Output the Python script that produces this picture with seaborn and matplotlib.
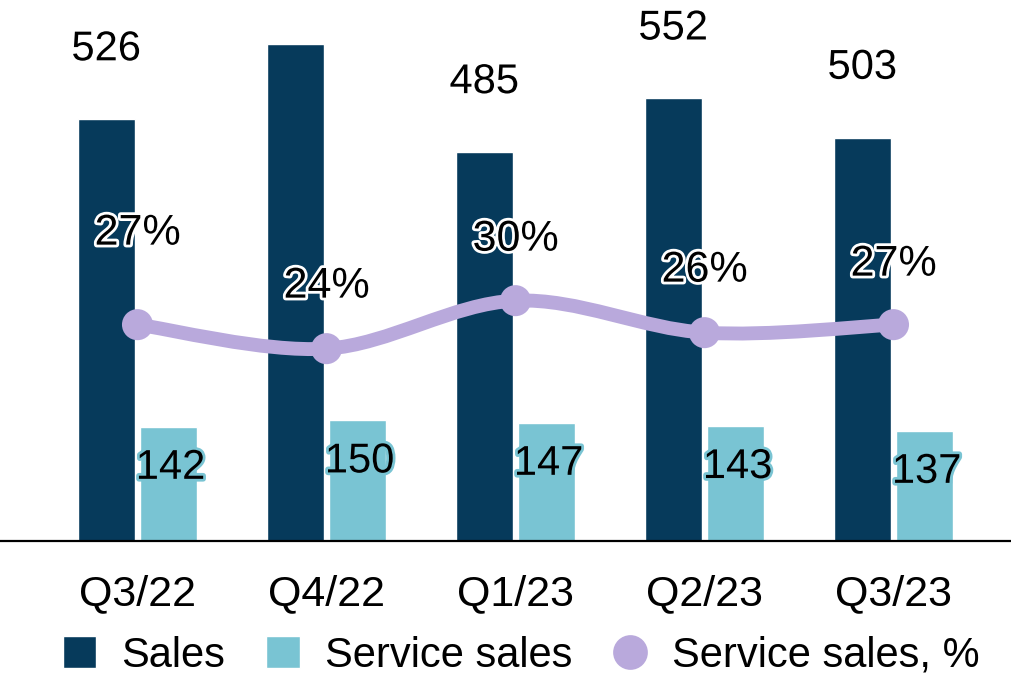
import numpy as np
import pandas as pd
import matplotlib
matplotlib.use("Agg")
import matplotlib.pyplot as plt
import matplotlib.patheffects as pe
from matplotlib.path import Path
from matplotlib.patches import PathPatch, Patch
from matplotlib.lines import Line2D
import seaborn as sns

# data
quarters = ["Q3/22", "Q4/22", "Q1/23", "Q2/23", "Q3/23"]
sales = [526, 620, 485, 552, 503]
service_sales = [142, 150, 147, 143, 137]
service_pct = [27, 24, 30, 26, 27]

NAVY = "#063a5b"
TEAL = "#79c4d3"
LAV = "#b9a9dc"

sns.set_style("white")
plt.rcParams["font.family"] = ["Liberation Sans", "DejaVu Sans"]
plt.rcParams["text.color"] = "black"
plt.rcParams["xtick.color"] = "black"

df = pd.DataFrame({
    "quarter": quarters * 2,
    "value": sales + service_sales,
    "series": ["Sales"] * 5 + ["Service sales"] * 5,
})

fig = plt.figure(figsize=(10.12, 6.74), dpi=100)
ax = fig.add_axes([0, 0.198, 1, 0.802])

sns.barplot(data=df, x="quarter", y="value", hue="series", order=quarters,
            palette=[NAVY, TEAL], width=0.66, gap=0.09, legend=False,
            saturation=1, ax=ax)
ax.set_xlim(-0.7275, 4.627)
ax.set_ylim(0, 675)
ax.set_xlabel("")
ax.set_ylabel("")
ax.set_yticks([])
for s in ["top", "left", "right"]:
    ax.spines[s].set_visible(False)
ax.spines["bottom"].set_color("black")
ax.spines["bottom"].set_linewidth(1.6)
ax.tick_params(axis="x", length=0, pad=24, labelsize=31, labelcolor="black")

white = [pe.withStroke(linewidth=4, foreground="white")]
teal_fx = [pe.withStroke(linewidth=4, foreground=TEAL)]

# value labels sit ~70px above the bars; the Q4/22 one would land above
# the top edge of the picture, so (as in the reference) it is not shown
fig.canvas.draw()
top_px = fig.bbox.height
for i, v in enumerate(sales):
    ypx = ax.transData.transform((0, v))[1] + 70
    if ypx + 15 > top_px:
        continue
    ax.annotate(str(v), (i - 0.165, v), xytext=(0, 70), textcoords="offset pixels",
                ha="center", va="center", fontsize=30, color="black",
                path_effects=white, annotation_clip=False)
for i, v in enumerate(service_sales):
    ax.annotate(str(v), (i + 0.175, v), xytext=(0, -41), textcoords="offset pixels",
                ha="center", va="center", fontsize=30, color="black",
                path_effects=teal_fx)

# percentage line on a second axis
ax2 = ax.twinx()
ax2.set_ylim(0, 67.6)
ax2.set_yticks([])
for s in ax2.spines.values():
    s.set_visible(False)

x = np.arange(len(quarters), dtype=float)
y = np.array(service_pct, dtype=float)
# smooth curve through the points (catmull-rom as cubic bezier)
verts = [(x[0], y[0])]
codes = [Path.MOVETO]
for i in range(len(x) - 1):
    p0 = (x[max(i - 1, 0)], y[max(i - 1, 0)])
    p1 = (x[i], y[i])
    p2 = (x[i + 1], y[i + 1])
    p3 = (x[min(i + 2, len(x) - 1)], y[min(i + 2, len(x) - 1)])
    c1 = (p1[0] + (p2[0] - p0[0]) / 6, p1[1] + (p2[1] - p0[1]) / 6)
    c2 = (p2[0] - (p3[0] - p1[0]) / 6, p2[1] - (p3[1] - p1[1]) / 6)
    verts += [c1, c2, p2]
    codes += [Path.CURVE4] * 3
ax2.add_patch(PathPatch(Path(verts, codes), facecolor="none", edgecolor=LAV,
                        lw=10, capstyle="round", zorder=3))
sns.scatterplot(x=x, y=y, color=LAV, s=500, edgecolor="none", ax=ax2, zorder=4)

pct_offsets = [91, 62, 61, 62, 60]
for i, p in enumerate(service_pct):
    ax2.annotate(f"{p}%", (x[i], p), xytext=(0, pct_offsets[i]), textcoords="offset pixels",
                 ha="center", va="center", fontsize=31, color="black",
                 path_effects=white, zorder=5)

handles = [
    Patch(facecolor=NAVY, label="Sales"),
    Patch(facecolor=TEAL, label="Service sales"),
    Line2D([], [], marker="o", color="none", markerfacecolor=LAV, markeredgecolor="none",
           markersize=25, label="Service sales, %"),
]
fig.legend(handles=handles, loc="center", bbox_to_anchor=(0.515, 0.027), ncol=3,
           frameon=False, fontsize=30, handlelength=0.8, handleheight=0.8,
           handletextpad=0.6, columnspacing=1.0, borderpad=0)

fig.savefig("out.png", dpi=100)
